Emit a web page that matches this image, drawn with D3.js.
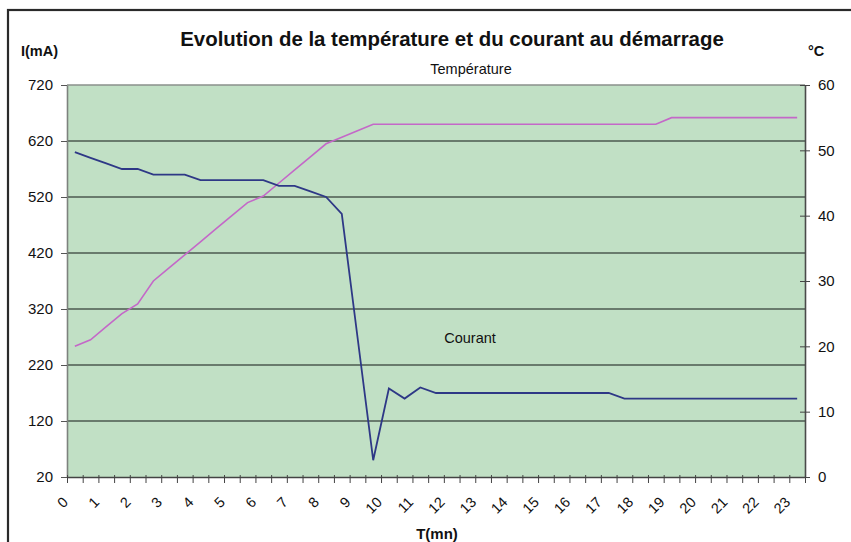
<!DOCTYPE html>
<html>
<head>
<meta charset="utf-8">
<script src="https://cdn.jsdelivr.net/npm/d3@7"></script>
<style>
body{margin:0;background:#fff;}
svg{display:block;font-family:"Liberation Sans",Arial,sans-serif;}
</style>
</head>
<body>
<div id="graph"></div>
<script>
var width = 851,
height = 542
var plot = {left: 67, right: 805, top: 85, bottom: 477}

// time in minutes, one point every 30 s
var times = [0,0.5,1,1.5,2,2.5,3,3.5,4,4.5,5,5.5,6,6.5,7,7.5,8,8.5,9,9.5,10,10.5,11,11.5,
  12,12.5,13,13.5,14,14.5,15,15.5,16,16.5,17,17.5,18,18.5,19,19.5,20,20.5,21,21.5,22,22.5,23]
// current in mA
var courant = [600,590,580,570,570,560,560,560,550,550,550,550,550,540,540,530,520,490,270,50,
  178,160,180,170,170,170,170,170,170,170,170,170,170,170,170,160,160,160,160,160,160,160,160,160,160,160,160]
// temperature in degrees C
var temperature = [20,21,23,25,26.5,30,32,34,36,38,40,42,43,45,47,49,51,52,53,54,54,54,54,54,
  54,54,54,54,54,54,54,54,54,54,54,54,54,54,55,55,55,55,55,55,55,55,55]
var leftTicks = [20,120,220,320,420,520,620,720]
var rightTicks = [0,10,20,30,40,50,60]
var xLabels = [0,1,2,3,4,5,6,7,8,9,10,11,12,13,14,15,16,17,18,19,20,21,22,23]

var svg = d3.select("#graph").append("svg")
.attr("width", width)
.attr("height", height)

// outer frame
svg.append("rect")
.attr("x", 8).attr("y", 10)
.attr("width", 900).attr("height", 600)
.attr("fill", "none")
.attr("stroke", "#2a2a2a")
.attr("stroke-width", 2.2)

var x = d3.scaleBand().domain(times).range([plot.left, plot.right])
var xEdge = d3.scaleLinear().domain([0, times.length]).range([plot.left, plot.right])
var yL = d3.scaleLinear().domain([20, 720]).range([plot.bottom, plot.top])
var yR = d3.scaleLinear().domain([0, 60]).range([plot.bottom, plot.top])

// plot area
svg.append("rect")
.attr("x", plot.left).attr("y", plot.top)
.attr("width", plot.right - plot.left)
.attr("height", plot.bottom - plot.top)
.attr("fill", "#c1e0c5")

// gridlines
svg.append("g").selectAll("line")
.data(leftTicks.slice(1, -1))
.enter().append("line")
.attr("x1", plot.left).attr("x2", plot.right)
.attr("y1", function(d){ return yL(d) })
.attr("y2", function(d){ return yL(d) })
.attr("stroke", "#4b5a4f")
.attr("stroke-width", 1.6)

svg.append("line")
.attr("x1", plot.left).attr("x2", plot.right)
.attr("y1", plot.top).attr("y2", plot.top)
.attr("stroke", "#8a918b").attr("stroke-width", 1.6)

// left axis
var axL = svg.append("g")
.attr("transform", "translate(" + plot.left + ",0)")
.call(d3.axisLeft(yL).tickValues(leftTicks).tickSize(6).tickPadding(8).tickSizeOuter(0))
axL.select(".domain").attr("stroke", "#7d827e").attr("stroke-width", 1.6)
axL.selectAll(".tick line").attr("stroke", "#555")
axL.selectAll("text").attr("font-size", 15).attr("fill", "#111")

// right axis
var axR = svg.append("g")
.attr("transform", "translate(" + plot.right + ",0)")
.call(d3.axisRight(yR).tickValues(rightTicks).tickSize(5).tickPadding(8).tickSizeOuter(0))
axR.select(".domain").attr("stroke", "#4a4a4a").attr("stroke-width", 1.6)
axR.selectAll(".tick line").attr("x1", -5).attr("stroke", "#444")
axR.selectAll("text").attr("font-size", 15).attr("fill", "#111")

// bottom axis, ticks between categories
var axB = svg.append("g")
.attr("transform", "translate(0," + plot.bottom + ")")
.call(d3.axisBottom(xEdge).tickValues(d3.range(times.length + 1)).tickFormat("").tickSize(6).tickSizeOuter(0))
axB.select(".domain").attr("stroke", "#444").attr("stroke-width", 1.6)
axB.selectAll(".tick line").attr("y1", -2).attr("stroke", "#444")

svg.append("g").selectAll("text")
.data(xLabels)
.enter().append("text")
.attr("transform", function(d){
  var cx = x(d) + x.bandwidth() / 2 - 6
  return "translate(" + cx + "," + (plot.bottom + 26) + ") rotate(-45)"
})
.attr("text-anchor", "end")
.attr("font-size", 14.5)
.attr("fill", "#111")
.text(function(d){ return d })

// lines
var lineT = d3.line()
.x(function(d, i){ return x(times[i]) + x.bandwidth() / 2 })
.y(function(d){ return yR(d) })
var lineC = d3.line()
.x(function(d, i){ return x(times[i]) + x.bandwidth() / 2 })
.y(function(d){ return yL(d) })

svg.append("path")
.datum(temperature)
.attr("d", lineT)
.attr("fill", "none")
.attr("stroke", "#c468c8")
.attr("stroke-width", 1.6)

svg.append("path")
.datum(courant)
.attr("d", lineC)
.attr("fill", "none")
.attr("stroke", "#2e3886")
.attr("stroke-width", 1.8)

// texts
var title = svg.append("text")
.attr("x", 452).attr("y", 46)
.attr("text-anchor", "middle")
.attr("font-weight", "bold")
.attr("font-size", 20)
.attr("fill", "#111")
.text("Evolution de la température et du courant au démarrage")
var tw = title.node().getComputedTextLength()
title.attr("font-size", 20 * 544 / tw)

svg.append("text").attr("x", 471).attr("y", 74).attr("text-anchor", "middle")
.attr("font-size", 14.5).attr("fill", "#111").text("Température")
svg.append("text").attr("x", 470).attr("y", 343).attr("text-anchor", "middle")
.attr("font-size", 14.5).attr("fill", "#111").text("Courant")
svg.append("text").attr("x", 21).attr("y", 56)
.attr("font-size", 14.5).attr("font-weight", "bold").attr("fill", "#111").text("I(mA)")
svg.append("text").attr("x", 808).attr("y", 56)
.attr("font-size", 14.5).attr("font-weight", "bold").attr("fill", "#111").text("°C")
svg.append("text").attr("x", 437).attr("y", 539).attr("text-anchor", "middle")
.attr("font-size", 15).attr("font-weight", "bold").attr("fill", "#111").text("T(mn)")
</script>
</body>
</html>
